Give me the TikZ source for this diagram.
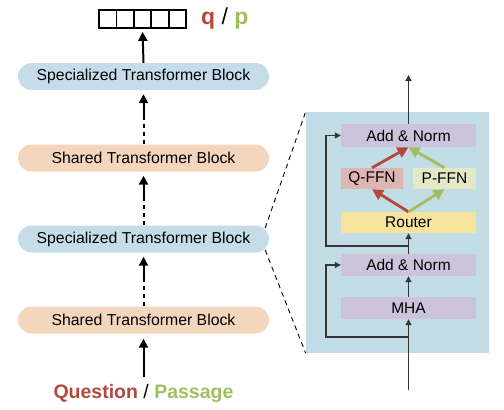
\documentclass[tikz,border=0pt]{standalone}
\usepackage{fontspec}
\setmainfont{Liberation Sans}
\usetikzlibrary{arrows.meta,calc}
\definecolor{specblue}{HTML}{C4DDE8}
\definecolor{panelblue}{HTML}{C3DDE7}
\definecolor{peach}{HTML}{F3D6BC}
\definecolor{lav}{HTML}{CDC4DC}
\definecolor{qpink}{HTML}{DDB6B3}
\definecolor{pgreen}{HTML}{E3E8C7}
\definecolor{routery}{HTML}{F6E39C}
\definecolor{qred}{HTML}{B3493E}
\definecolor{pgr}{HTML}{A2BE5E}
\definecolor{darkg}{HTML}{353535}
\begin{document}
\begin{tikzpicture}[x=1pt,y=-1pt,
  pill/.style={rounded corners=13.5pt,minimum width=251pt,minimum height=27pt,inner sep=0pt,
    font=\fontsize{15.8}{18}\selectfont},
  specnode/.style={pill,fill=specblue},
  sharednode/.style={pill,fill=peach},
  inbox/.style={minimum width=135pt,minimum height=22pt,inner sep=0pt,font=\fontsize{15.5}{18}\selectfont},
  cell/.style={draw=black,line width=1.8pt,minimum width=17.4pt,minimum height=18pt,inner sep=0pt},
  bigarrow/.style={line width=2pt,-{Triangle[length=9pt,width=9pt]}},
  dotarrow/.style={bigarrow,dash pattern=on 4pt off 4pt on 4pt off 4pt on 4pt off 4pt on 60pt off 0pt},
  parrow/.style={draw=darkg,line width=1.2pt,-{Triangle[length=6pt,width=6pt]}},
  qarrow/.style={draw=qred,line width=2.8pt,-{Triangle[length=11pt,width=11pt]}},
  parrowg/.style={draw=pgr,line width=2.8pt,-{Triangle[length=11pt,width=11pt]}},
  zoomline/.style={draw=black,line width=0.9pt,dash pattern=on 5pt off 4pt}
]
\useasboundingbox (0,0) rectangle (504,410);

% left column
\node[specnode] (spec1) at (143.5,76.5) {Specialized Transformer Block};
\node[sharednode] (sh1) at (143.5,158) {Shared Transformer Block};
\node[specnode] (spec2) at (143.5,239) {Specialized Transformer Block};
\node[sharednode] (sh2) at (143.5,320) {Shared Transformer Block};

\node[font=\fontsize{19.5}{22}\selectfont,inner sep=0pt] (qp) at (143.5,393)
  {\textcolor{qred}{\bfseries Question} / \textcolor{pgr}{\bfseries Passage}};

% output cells
\foreach \i in {0,...,4} {
  \node[cell] (c\i) at ({107.7+17.4*\i},19) {};
}
\node[font=\fontsize{23}{26}\selectfont,inner sep=0pt,anchor=west] (qpout) at (201,19)
  {\textcolor{qred}{\bfseries q} / \textcolor{pgr}{\bfseries p}};

% left arrows
\draw[bigarrow,shorten <=7pt,shorten >=5pt] (qp.north) -- (sh2.south);
\draw[dotarrow,shorten >=4pt] (sh2.north) -- (spec2.south);
\draw[dotarrow,shorten >=4pt] (spec2.north) -- (sh1.south);
\draw[dotarrow,shorten >=4pt] (sh1.north) -- (spec1.south);
\draw[bigarrow,shorten >=3pt] (spec1.north) -- (c2.south);

% panel
\node[fill=panelblue,minimum width=183.5pt,minimum height=241pt,inner sep=0pt] (panel) at (397.6,232.5) {};
\draw[zoomline] ($(spec2.east)+(-4,-11)$) -- (panel.north west);
\draw[zoomline] ($(spec2.east)+(-4,11)$) -- (panel.south west);

\node[inbox,fill=lav,minimum height=23pt] (an2) at (408.5,135.5) {Add \& Norm};
\node[inbox,fill=qpink,minimum width=62pt,minimum height=21pt] (qffn) at (372,178.5) {Q-FFN};
\node[inbox,fill=pgreen,minimum width=63pt,minimum height=21pt] (pffn) at (444.5,178.5) {P-FFN};
\node[inbox,fill=routery,minimum height=21pt] (router) at (408.5,222.5) {Router};
\node[inbox,fill=lav] (an1) at (408.5,265) {Add \& Norm};
\node[inbox,fill=lav] (mha) at (408.5,308) {MHA};

\coordinate (out) at (408.5,75);
\coordinate (in) at (408.5,390);
\coordinate (r1) at (408.5,337);
\coordinate (r2) at (408.5,246);
\coordinate (lx) at (326,0);

\draw[parrow] (an2.north) -- (out);
\draw[parrow] (in) -- (mha.south);
\draw[parrow] (mha.north) -- (an1.south);
\draw[parrow] (an1.north) -- (router.south);
\draw[parrow] (r1) -| (lx |- an1.west) -- (an1.west);
\draw[parrow] (r2) -| (lx |- an2.west) -- (an2.west);

\draw[qarrow] (router.north) -- (qffn.south);
\draw[qarrow] (qffn.north) -- (an2.south);
\draw[parrowg] (router.north) -- (pffn.south);
\draw[parrowg] (pffn.north) -- (an2.south);
\end{tikzpicture}
\end{document}
